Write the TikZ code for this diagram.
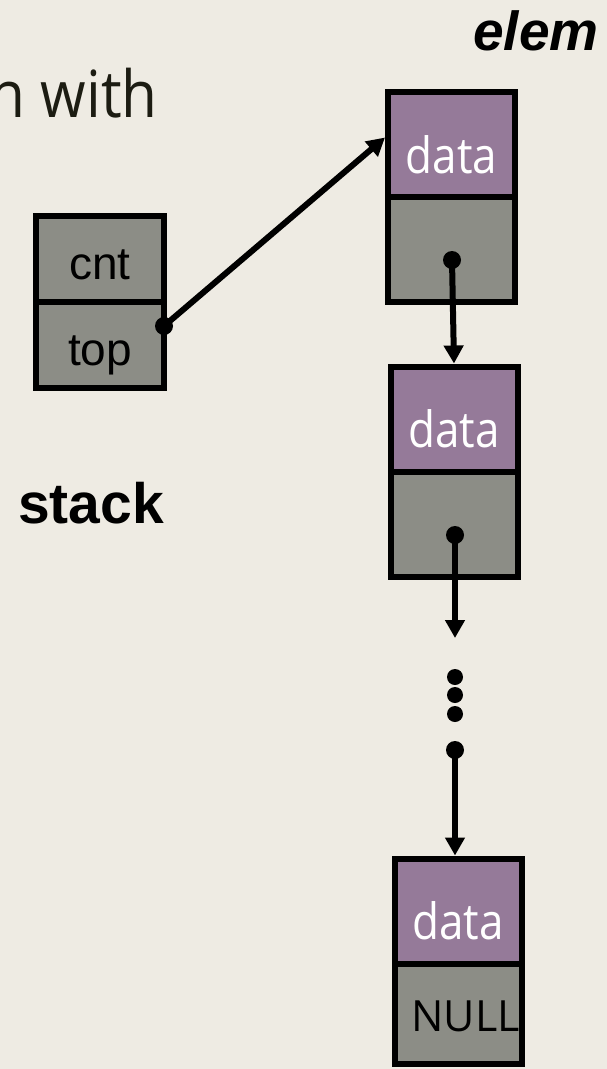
\documentclass[tikz,border=0pt]{standalone}
\usepackage{fontspec}
\setmainfont{Liberation Sans}
\newfontfamily\opensans{Open Sans}
\newfontfamily\datafont{Open Sans}[FakeStretch=0.88]
\newfontfamily\titlefont{Open Sans}[FakeStretch=0.9]
\usetikzlibrary{positioning,arrows.meta}

\definecolor{paper}{HTML}{EEEBE3}
\definecolor{cellgrey}{HTML}{8C8D86}
\definecolor{cellpurple}{HTML}{957A99}
\definecolor{ink}{HTML}{1C1C12}

\tikzset{
    field/.style={rectangle, draw=black, line width=6pt, inner sep=0pt,
        minimum width=127pt, minimum height=105pt},
    datafield/.style={field, fill=cellpurple, text=white, text height=57pt, text depth=0pt,
        font=\datafont\fontsize{50}{56}\selectfont},
    ptrfield/.style={field, fill=cellgrey},
    stackfield/.style={field, fill=cellgrey, minimum width=128pt, minimum height=86pt,
        text height=40pt, text depth=0pt, font=\fontsize{46}{50}\selectfont},
    ptrdot/.style={circle, fill=black, inner sep=0pt, minimum size=18pt},
    link/.style={line width=6pt, -{Triangle[length=18pt,width=19pt]}},
}

\begin{document}
\begin{tikzpicture}[x=1pt, y=-1pt]
        % Page and background
        \useasboundingbox[fill=paper] (0,0) rectangle (607,1069);
        % Texts
        \node[anchor=base east, inner sep=0pt, text=ink, font=\titlefont\fontsize{65}{70}\selectfont] (title) at (158,117) {n with};
        \node[anchor=base west, inner sep=0pt, font=\bfseries\fontsize{57}{62}\selectfont] (stacklbl) at (18,523) {stack};
        \node[anchor=base west, inner sep=0pt, font=\bfseries\itshape\fontsize{55}{60}\selectfont] (elemlbl) at (473,50) {elem};
        % The stack
        \node[stackfield] (cnt) at (100,259) {cnt};
        \node[stackfield, below=-6pt of cnt] (top) {top};
        % The elements
        \foreach \n/\x/\y in {1/451.5/144.5, 2/454/419, 3/458/911} {
            \node[datafield] (d\n) at (\x,\y) {data};
        }
        \foreach \n in {1,2} {
            \node[ptrfield, below=-6pt of d\n] (p\n) {};
        }
        \node[ptrfield, minimum height=100pt, below=-6pt of d3, path picture={
            \node[anchor=base west, inner sep=0pt, font=\opensans\fontsize{43}{48}\selectfont] (null)
                at ([shift={(-59,18)}]path picture bounding box.center) {NULL};
        }] (p3) {};
        % Pointer dots
        \node[ptrdot] (sdot) at (164,326) {};
        \node[ptrdot] (p1dot) at (452,260) {};
        \node[ptrdot] (p2dot) at (455,535) {};
        \node[ptrdot] (p3dot) at (455,750) {};
        \foreach \y in {677,695,714} {
            \node[ptrdot, minimum size=16pt] (gap\y) at (455,\y) {};
        }
        \coordinate (gapend) at (455,638);
        % Links
        \draw[link] (sdot.center) -- (d1.174);
        \draw[link] (p1dot.center) -- (d2.north);
        \draw[link] (p2dot.center) -- (gapend);
        \draw[link] (p3dot.center) -- (d3.north -| p3dot);
\end{tikzpicture}
\end{document}
